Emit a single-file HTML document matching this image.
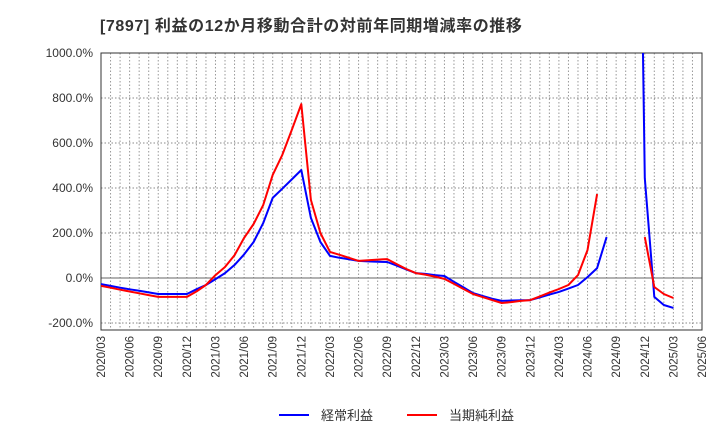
<!DOCTYPE html>
<html><head><meta charset="utf-8"><style>
body{margin:0;background:#fff;font-family:"Liberation Sans","Noto Sans CJK JP",sans-serif;}
</style></head><body>
<svg id="c" width="720" height="440" xmlns="http://www.w3.org/2000/svg">
<text x="100" y="31" font-size="16" letter-spacing="0.6" font-weight="bold" fill="#333" font-family="Liberation Sans, Noto Sans CJK JP, sans-serif">[7897]  利益の12か月移動合計の対前年同期増減率の推移</text>
<g id="grid"></g><g id="axes"></g><g id="series"></g>
<g>
<line x1="279" y1="415" x2="309" y2="415" stroke="#0000ff" stroke-width="2"/>
<text x="321" y="420" font-size="13" fill="#333" font-family="Liberation Sans, Noto Sans CJK JP, sans-serif">経常利益</text>
<line x1="407" y1="415" x2="437" y2="415" stroke="#ff0000" stroke-width="2"/>
<text x="449" y="420" font-size="13" fill="#333" font-family="Liberation Sans, Noto Sans CJK JP, sans-serif">当期純利益</text>
</g>
</svg>
<script>
const xLabels=["2020/03","2020/06","2020/09","2020/12","2021/03","2021/06","2021/09","2021/12","2022/03","2022/06","2022/09","2022/12","2023/03","2023/06","2023/09","2023/12","2024/03","2024/06","2024/09","2024/12","2025/03","2025/06"];
const yTicks=[-200,0,200,400,600,800,1000];
const blue=[-27,-35,-43,-50,-57,-64,-71,-71,-71,-71,-50,-31,-5,22,58,105,160,244,356,397,438,480,267,160,98,90,83,76,74,72,71,55,38,22,18,13,9,-17,-42,-67,-80,-92,-102,-100,-99,-98,-86,-74,-62,-47,-31,4,44,182,null,null,3360,444,-84,-120,-133];
const red=[-35,-43,-52,-60,-68,-76,-84,-84,-84,-84,-60,-31,13,49,102,178,240,324,458,547,658,773,347,200,116,103,90,76,79,82,84,62,40,22,15,6,-4,-26,-49,-71,-85,-98,-111,-107,-102,-98,-82,-65,-49,-31,13,124,373,null,null,null,null,182,-40,-71,-89];
const NS="http://www.w3.org/2000/svg";
const L=101,R=702,T=53,B=330,nMonths=63;
const X=m=>L+m*(R-L)/nMonths;
const Y=v=>278-v*45/200;
function mk(tag,attrs,parent){const e=document.createElementNS(NS,tag);for(const k in attrs)e.setAttribute(k,attrs[k]);parent.appendChild(e);return e;}
const grid=document.getElementById('grid'),axes=document.getElementById('axes'),ser=document.getElementById('series');
for(let m=1;m<nMonths;m++){const l=mk('line',{x1:X(m),x2:X(m),y1:T,y2:B,stroke:'#999','stroke-dasharray':'1.5,2','stroke-width':1},grid);

}
yTicks.forEach(v=>{const y=Y(v);
const l=mk('line',{x1:L,x2:R,y1:y,y2:y,stroke:v===0?'#666':'#888','stroke-dasharray':v===0?'none':'1.5,2','stroke-width':1},grid);


const t=mk('text',{x:93,y:y+4,'text-anchor':'end','font-size':12,fill:'#333'},axes);t.textContent=v.toFixed(1)+'%';

});
xLabels.forEach((s,i)=>{const x=X(i*3);
const t=mk('text',{x:0,y:0,transform:`translate(${x+4},336) rotate(-90)`,'text-anchor':'end','font-size':11.5,fill:'#333'},axes);t.textContent=s;

});
const fr=mk('rect',{x:L,y:T,width:R-L,height:B-T,fill:'none',stroke:'#333','stroke-width':1},axes);


const cp=mk('clipPath',{id:'clip'},ser);mk('rect',{x:L,y:T,width:R-L,height:B-T},cp);
function draw(arr,color,name){let d='',pen=false;arr.forEach((v,i)=>{if(v===null){pen=false;return;}d+=(pen?'L':'M')+X(i).toFixed(1)+','+Y(v).toFixed(1);pen=true;});
const p=mk('path',{d:d,fill:'none',stroke:color,'stroke-width':2,'clip-path':'url(#clip)','stroke-linejoin':'round'},ser);

}
draw(blue,'#0000ff','series-operating-profit');
draw(red,'#ff0000','series-net-profit');
</script>
</body></html>
